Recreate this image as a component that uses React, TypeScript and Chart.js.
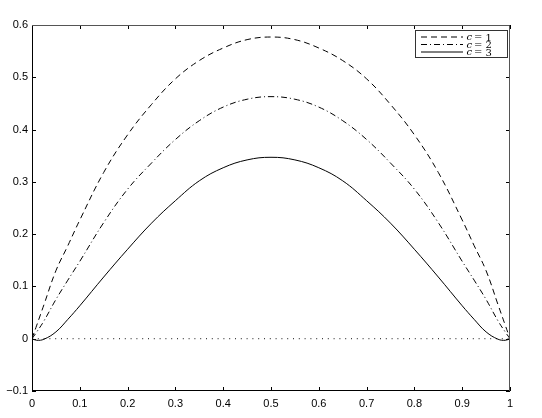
import React, { useEffect, useRef } from "react";
import { Chart, registerables } from "chart.js";

Chart.register(...registerables);

const xValues = [0, 0.01, 0.025, 0.05, 0.075, 0.1, 0.15, 0.2, 0.25, 0.3, 0.35, 0.4, 0.45, 0.5, 0.55, 0.6, 0.65, 0.7, 0.75, 0.8, 0.85, 0.9, 0.925, 0.95, 0.975, 0.99, 1];
const c1Values = [0, 0.026, 0.065, 0.13, 0.178, 0.227, 0.318, 0.39, 0.448, 0.497, 0.532, 0.556, 0.572, 0.577, 0.572, 0.556, 0.532, 0.497, 0.448, 0.39, 0.318, 0.227, 0.178, 0.13, 0.065, 0.026, 0];
const c2Values = [0, 0.013, 0.034, 0.075, 0.112, 0.148, 0.222, 0.286, 0.336, 0.381, 0.417, 0.443, 0.458, 0.463, 0.458, 0.443, 0.417, 0.381, 0.336, 0.286, 0.222, 0.148, 0.112, 0.075, 0.034, 0.013, 0];
const c3Values = [0, -0.003, -0.001, 0.013, 0.037, 0.063, 0.118, 0.171, 0.221, 0.264, 0.302, 0.327, 0.342, 0.347, 0.342, 0.327, 0.302, 0.264, 0.221, 0.171, 0.118, 0.063, 0.037, 0.013, -0.001, -0.003, 0];
const zeroX = [0, 1];
const zeroY = [0, 0];

const seriesLabels = ["c = 1", "c = 2", "c = 3"];
const xTickLabels = ["0", "0.1", "0.2", "0.3", "0.4", "0.5", "0.6", "0.7", "0.8", "0.9", "1"];
const yTickLabels = ["\u22120.1", "0", "0.1", "0.2", "0.3", "0.4", "0.5", "0.6"];

const dashes = [[6, 4], [6, 3, 1, 3], []];

const framePlugin = {
  id: "frame",
  afterDraw(chart: any) {
    const { ctx, chartArea, scales } = chart;
    const { left, right, top, bottom } = chartArea;
    ctx.save();
    ctx.lineWidth = 1;
    ctx.setLineDash([]);
    ctx.strokeStyle = "#000";
    const tl = 4;
    ctx.beginPath();
    scales.x.ticks.forEach((t: any) => {
      const px = Math.round(scales.x.getPixelForValue(t.value)) + 0.5;
      ctx.moveTo(px, bottom);
      ctx.lineTo(px, bottom - tl);
      ctx.moveTo(px, top);
      ctx.lineTo(px, top + tl);
    });
    scales.y.ticks.forEach((t: any) => {
      const py = Math.round(scales.y.getPixelForValue(t.value)) + 0.5;
      ctx.moveTo(left, py);
      ctx.lineTo(left + tl, py);
      ctx.moveTo(right, py);
      ctx.lineTo(right - tl, py);
    });
    ctx.stroke();
    ctx.beginPath();
    ctx.strokeStyle = "#000";
    ctx.moveTo(left + 0.5, top);
    ctx.lineTo(left + 0.5, bottom - 0.5);
    ctx.lineTo(right, bottom - 0.5);
    ctx.stroke();
    ctx.beginPath();
    ctx.strokeStyle = "#555";
    ctx.moveTo(left, top + 0.5);
    ctx.lineTo(right - 0.5, top + 0.5);
    ctx.lineTo(right - 0.5, bottom);
    ctx.stroke();

    // legend
    const lx = 415.5, ly = 30.5, lw = 92, lh = 27;
    ctx.fillStyle = "#fff";
    ctx.fillRect(lx, ly, lw, lh);
    ctx.strokeStyle = "#333";
    ctx.strokeRect(lx, ly, lw, lh);
    const rows = [37, 44.5, 52];
    chart.data.datasets.slice(0, 3).forEach((ds: any, i: number) => {
      const y = rows[i];
      ctx.beginPath();
      ctx.setLineDash(ds.borderDash || []);
      ctx.strokeStyle = "#000";
      ctx.moveTo(421, y);
      ctx.lineTo(463, y);
      ctx.stroke();
      ctx.setLineDash([]);
      const parts = String(ds.label).split(" = ");
      ctx.fillStyle = "#000";
      ctx.textBaseline = "alphabetic";
      ctx.textAlign = "left";
      ctx.font = 'italic 10px "DejaVu Serif"';
      ctx.fillText(parts[0], 466.5, y + 3);
      ctx.font = '10px "DejaVu Serif"';
      ctx.fillText("=", 474, y + 3);
      ctx.fillText(parts[1], 485.5, y + 3.5);
    });
    ctx.restore();
  },
};

export default function App() {
  const ref = useRef<HTMLCanvasElement | null>(null);
  useEffect(() => {
    document.body.style.margin = "0";
    if (!ref.current) return;
    const seriesData = [c1Values, c2Values, c3Values];
    const datasets: any[] = seriesData.map((vals, i) => ({
      label: seriesLabels[i],
      data: xValues.map((x, j) => ({ x, y: vals[j] })),
      borderColor: "#000",
      borderWidth: 1,
      borderDash: dashes[i],
      pointRadius: 0,
      tension: 0.4,
      fill: false,
    }));
    datasets.push({
      label: "zero",
      data: zeroX.map((x, j) => ({ x, y: zeroY[j] })),
      borderColor: "#111",
      borderWidth: 1,
      borderDash: [1, 4.8],
      pointRadius: 0,
      fill: false,
    });
    const chart = new Chart(ref.current, {
      type: "line",
      data: { datasets },
      plugins: [framePlugin],
      options: {
        animation: false,
        responsive: false,
        devicePixelRatio: 1,
        layout: { padding: { top: 25, right: 32, left: 0, bottom: 0 } },
        plugins: { legend: { display: false }, tooltip: { enabled: false } },
        scales: {
          x: {
            type: "linear",
            min: 0,
            max: 1,
            grid: { display: false, drawTicks: false },
            border: { display: false },
            afterFit: (s: any) => { s.height = 27; },
            ticks: {
              stepSize: 0.1,
              padding: 6,
              color: "#000",
              font: { family: '"Liberation Sans", Arial', size: 11 },
              maxRotation: 0,
              autoSkip: false,
              callback: (_v: any, i: number) => xTickLabels[i],
            },
          },
          y: {
            type: "linear",
            min: -0.1,
            max: 0.6,
            grid: { display: false, drawTicks: false },
            border: { display: false },
            afterFit: (s: any) => { s.width = 32; },
            ticks: {
              stepSize: 0.1,
              padding: 4,
              color: "#000",
              font: { family: '"Liberation Sans", Arial', size: 11 },
              autoSkip: false,
              callback: (_v: any, i: number) => yTickLabels[i],
            },
          },
        },
      },
    });
    return () => chart.destroy();
  }, []);
  return (
    <div style={{ position: "absolute", left: 0, top: 0, width: 542, height: 418, background: "#fff" }}>
      <canvas ref={ref} width={542} height={418} />
    </div>
  );
}
